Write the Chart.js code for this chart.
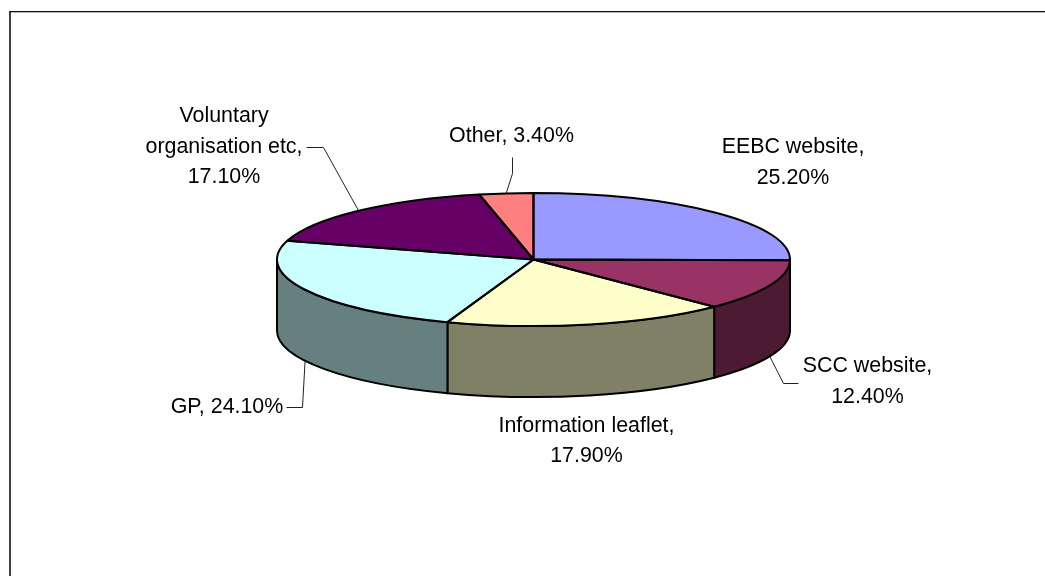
<!DOCTYPE html>
<html>
<head>
<meta charset="utf-8">
<style>html,body{margin:0;padding:0;background:#fff}canvas{display:block}</style>
<script src="https://cdn.jsdelivr.net/npm/chart.js@4"></script>
</head>
<body>
<canvas id="c" width="1045" height="576"></canvas>
<script>
const categories = ["EEBC website", "SCC website", "Information leaflet", "GP", "Voluntary organisation etc", "Other"];
const values = [25.2, 12.4, 17.9, 24.1, 17.1, 3.4];
const topColors = ["#9999FF", "#993366", "#FFFFCC", "#CCFFFF", "#660066", "#FF8080"];
const sideColors = ["#4D4D80", "#4D1A33", "#808066", "#668080", "#330033", "#804040"];
const labelLines = [
  ["EEBC website,", "25.20%"],
  ["SCC website,", "12.40%"],
  ["Information leaflet,", "17.90%"],
  ["GP, 24.10%"],
  ["Voluntary", "organisation etc,", "17.10%"],
  ["Other, 3.40%"]
];
const labelCentres = [[793, 147.5], [867.5, 366.5], [586.5, 426], [227, 407.5], [224, 116.5], [511.5, 136]];
const LINE_H = 30.3;
const SQUASH = 66.5 / 256.5;
const DEPTH = 71;
// leader: [text-side point, elbow], ending at the slice's mid angle on the rim
const leaders = [null, [[798, 383], [783, 383]], null, [[286, 407], [302, 407]], [[306, 147], [323, 147]], [[512, 157], [512, 173]]];

const TWO_PI = Math.PI * 2;
function frontRange(a, b) {
  // visible part of an arc on the front wall (canvas angles in 0..PI)
  let s = a, e = b;
  while (s < -1e-6) { s += TWO_PI; e += TWO_PI; }
  while (s >= TWO_PI) { s -= TWO_PI; e -= TWO_PI; }
  if (s < Math.PI) return [s, Math.min(e, Math.PI)];
  if (e > TWO_PI) return [TWO_PI, Math.min(e, TWO_PI + Math.PI)];
  return null;
}

const pie3d = {
  id: "pie3d",
  beforeDraw(chart) {
    const ctx = chart.ctx;
    ctx.save();
    ctx.fillStyle = "#b8b8b8";
    ctx.fillRect(11, 12, 1034, 1);
    ctx.fillStyle = "#111";
    ctx.fillRect(9, 11, 1036, 1);
    ctx.fillStyle = "#404040";
    ctx.fillRect(9, 12, 2, 564);
    ctx.restore();
  },
  beforeDatasetsDraw(chart) {
    const ctx = chart.ctx;
    const arcs = chart.getDatasetMeta(0).data;
    ctx.save();
    ctx.lineWidth = 2;
    ctx.lineJoin = "round";
    ctx.strokeStyle = "#000";
    arcs.forEach((el, i) => {
      const r = frontRange(el.startAngle, el.endAngle);
      if (!r) return;
      const R = el.outerRadius;
      ctx.beginPath();
      ctx.ellipse(el.x, el.y, R, R * SQUASH, 0, r[0], r[1]);
      ctx.ellipse(el.x, el.y + DEPTH, R, R * SQUASH, 0, r[1], r[0], true);
      ctx.closePath();
      ctx.fillStyle = sideColors[i];
      ctx.fill();
      ctx.stroke();
    });
    ctx.restore();
    const el = arcs[0];
    ctx.save();
    ctx.translate(el.x, el.y);
    ctx.scale(1, SQUASH);
    ctx.translate(-el.x, -el.y);
  },
  afterDatasetsDraw(chart) {
    const ctx = chart.ctx;
    ctx.restore();
    const arcs = chart.getDatasetMeta(0).data;
    ctx.save();
    ctx.lineWidth = 2;
    ctx.lineJoin = "round";
    ctx.strokeStyle = "#000";
    arcs.forEach(el => {
      const R = el.outerRadius;
      ctx.beginPath();
      ctx.moveTo(el.x, el.y);
      ctx.ellipse(el.x, el.y, R, R * SQUASH, 0, el.startAngle, el.endAngle);
      ctx.closePath();
      ctx.stroke();
    });
    // leader lines
    ctx.lineWidth = 1;
    ctx.strokeStyle = "#222";
    arcs.forEach((el, i) => {
      const l = leaders[i];
      if (!l) return;
      const mid = (el.startAngle + el.endAngle) / 2;
      const R = el.outerRadius;
      const ax = el.x + R * Math.cos(mid);
      let ay = el.y + R * SQUASH * Math.sin(mid);
      if (Math.sin(mid) > 0) ay += DEPTH;
      ctx.beginPath();
      ctx.moveTo(l[0][0] + 0.5, l[0][1] + 0.5);
      ctx.lineTo(l[1][0] + 0.5, l[1][1] + 0.5);
      ctx.lineTo(ax, ay);
      ctx.stroke();
    });
    // labels
    ctx.fillStyle = "#000";
    ctx.font = '21.4px "Liberation Sans", Arial, sans-serif';
    ctx.textAlign = "center";
    ctx.textBaseline = "middle";
    labelLines.forEach((lines, i) => {
      lines.forEach((t, j) => {
        ctx.fillText(t, labelCentres[i][0], labelCentres[i][1] + j * LINE_H);
      });
    });
    ctx.restore();
  }
};

new Chart(document.getElementById("c"), {
  type: "pie",
  data: {
    labels: categories,
    datasets: [{ data: values, backgroundColor: topColors, borderWidth: 0 }]
  },
  options: {
    responsive: false,
    animation: false,
    layout: { padding: { left: 22, right: 0, top: 3, bottom: 60 } },
    plugins: { legend: { display: false }, tooltip: { enabled: false } }
  },
  plugins: [pie3d]
});
</script>
</body>
</html>
